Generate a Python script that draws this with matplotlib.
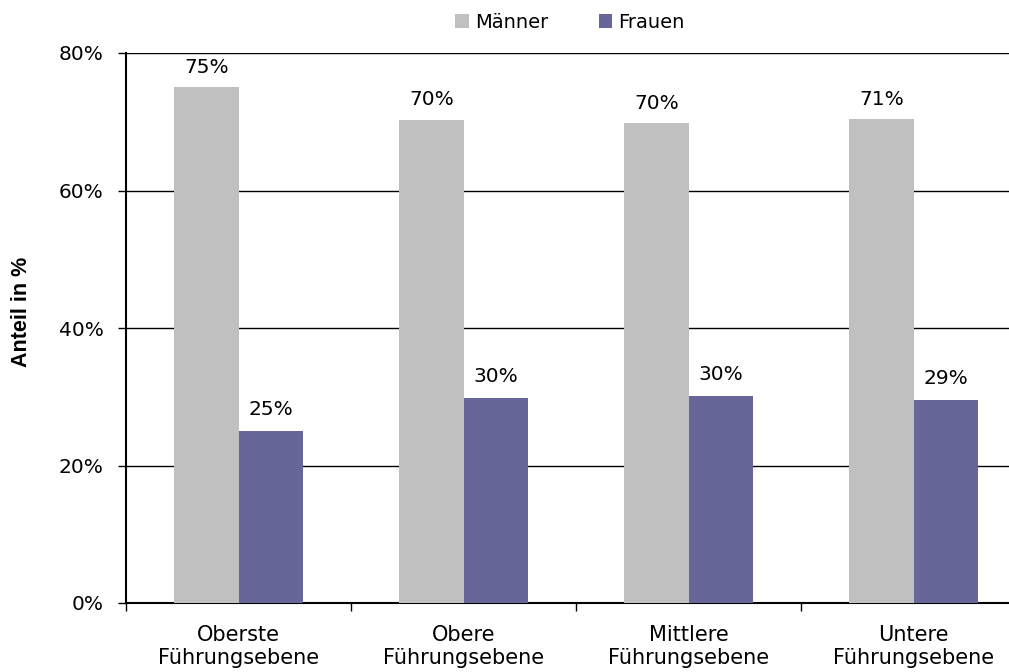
import matplotlib
matplotlib.use("Agg")
import matplotlib.pyplot as plt
import numpy as np
from matplotlib.ticker import FixedLocator

plt.rcParams['font.family'] = ['DejaVu Sans']

categories = ["Oberste\nFührungsebene", "Obere\nFührungsebene", "Mittlere\nFührungsebene", "Untere\nFührungsebene"]
maenner = [75.0, 70.3, 69.8, 70.4]
frauen = [25.0, 29.8, 30.1, 29.5]
maenner_labels = ["75%", "70%", "70%", "71%"]
frauen_labels = ["25%", "30%", "30%", "29%"]
yticks = [0, 20, 40, 60, 80]

W, H = 1009, 672
fig = plt.figure(figsize=(W/100, H/100), dpi=100)
left, right, bottom, top = 126, 126 + 4*225, 603, 53
ax = fig.add_axes([left/W, 1 - bottom/H, (right-left)/W, (bottom-top)/H])

x = np.arange(len(categories))
bw = 0.285
ax.bar(x - bw/2, maenner, bw, color="#C0C0C0", label="Männer", zorder=3)
ax.bar(x + bw/2, frauen, bw, color="#666699", label="Frauen", zorder=3)

fs = 14.5
for xi, v, t in zip(x, maenner, maenner_labels):
    ax.text(xi - bw/2, v + 1.5, t, ha="center", va="bottom", fontsize=fs)
for xi, v, t in zip(x, frauen, frauen_labels):
    ax.text(xi + bw/2, v + 1.7, t, ha="center", va="bottom", fontsize=fs)

ax.set_xlim(-0.5, 3.5)
ax.set_ylim(0, 80)
ax.set_yticks(yticks)
ax.set_yticklabels([f"{t}%" for t in yticks], fontsize=fs)
ax.yaxis.grid(True, color="black", linewidth=1.0, zorder=0)
ax.set_axisbelow(True)

ax.set_xticks(x)
ax.set_xticklabels(categories, fontsize=15, linespacing=1.15)
ax.tick_params(axis="x", length=0, pad=16)
ax.xaxis.set_minor_locator(FixedLocator([-0.5, 0.5, 1.5, 2.5]))
ax.tick_params(axis="x", which="minor", length=6, width=1, color="black")
ax.tick_params(axis="y", length=6, width=1, direction="out", pad=10)

for s in ["top", "right"]:
    ax.spines[s].set_visible(False)
ax.spines["left"].set_linewidth(1.5)
ax.spines["bottom"].set_linewidth(1.5)

ax.set_ylabel("Anteil in %", fontsize=15.5, fontweight="bold", family=["Liberation Sans", "DejaVu Sans"])
ax.yaxis.set_label_coords(32/W, 1 - 312/H, transform=fig.transFigure)

ax.legend(loc="center", bbox_to_anchor=(570/W, 1 - 22/H), bbox_transform=fig.transFigure,
          ncol=2, frameon=False, fontsize=14, handlelength=0.7, handleheight=0.7,
          handletextpad=0.3, columnspacing=2.6)

fig.savefig("out.png", dpi=100)
